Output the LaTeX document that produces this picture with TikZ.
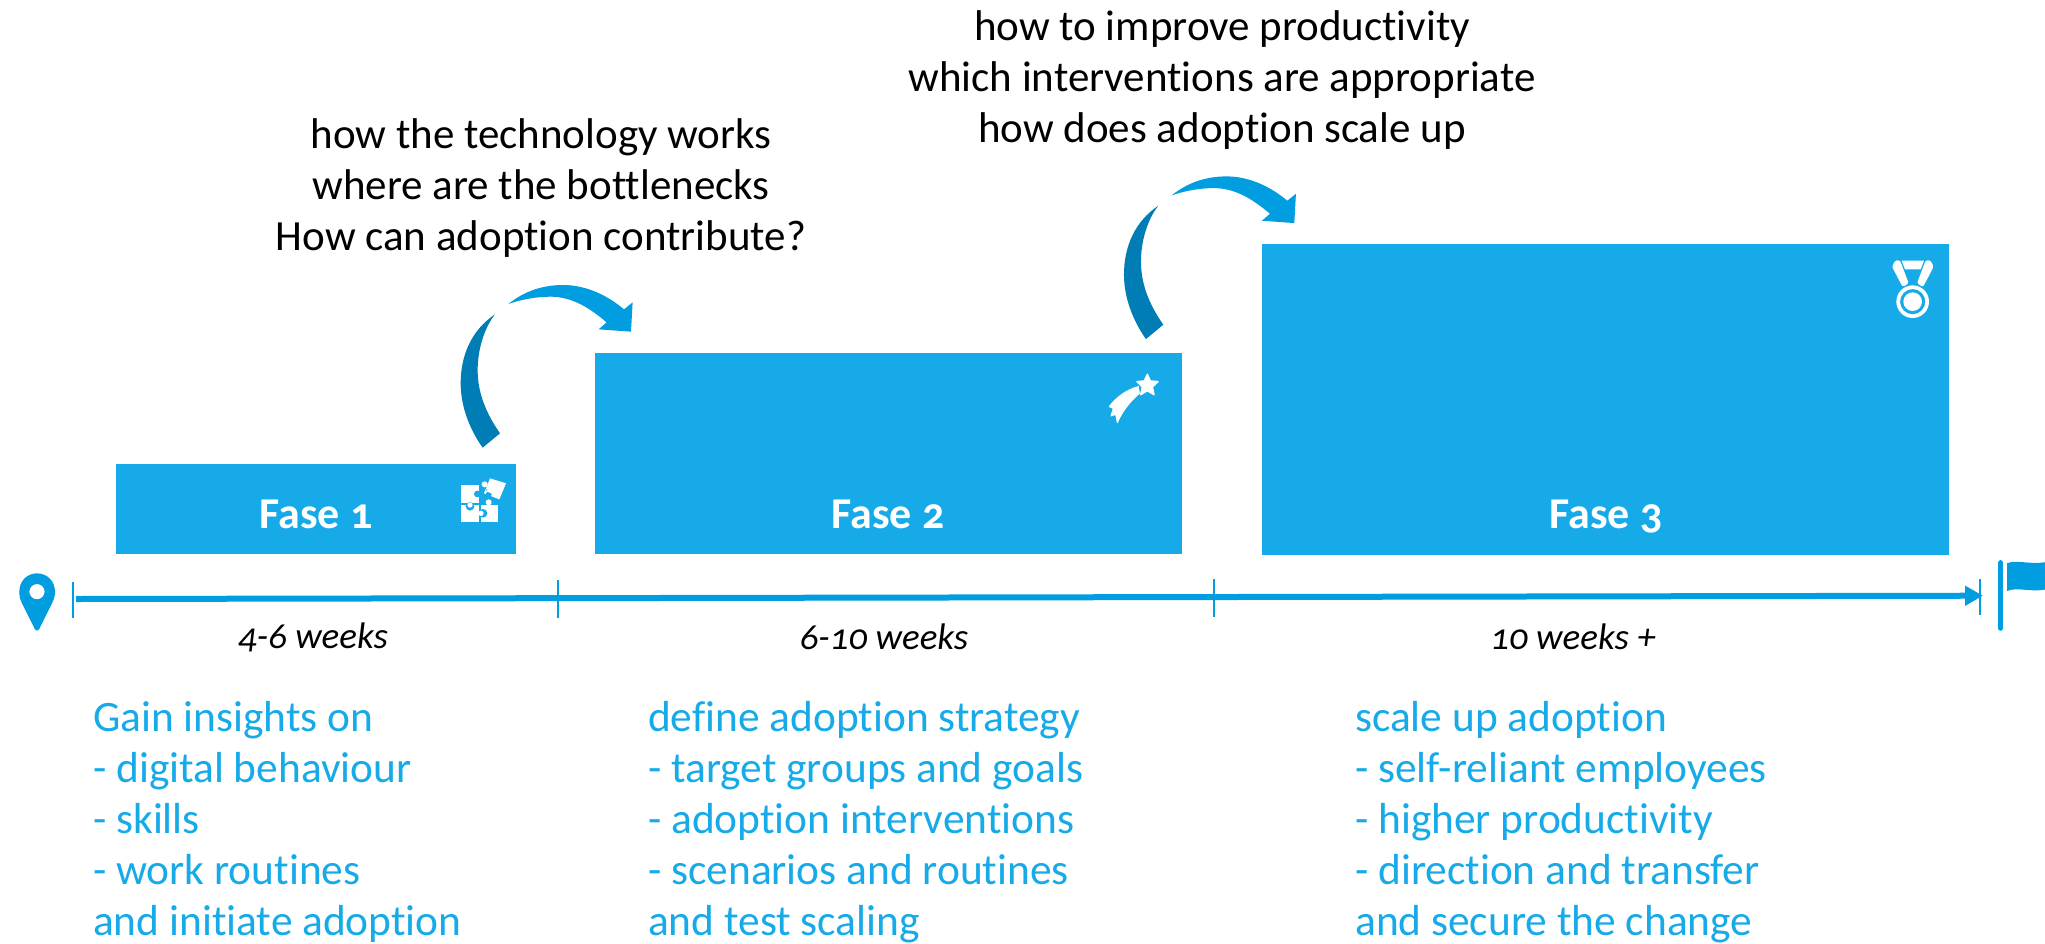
\documentclass[tikz,border=0pt]{standalone}
\usepackage{fontspec}
\setmainfont[Numbers=OldStyle,Ligatures=NoCommon]{Carlito}
\usetikzlibrary{arrows.meta}
\definecolor{boxblue}{RGB}{23,170,233}
\definecolor{linkblue}{RGB}{0,158,224}
\definecolor{darkblue}{RGB}{0,125,181}
\tikzset{
  phasebox/.style={fill=boxblue,draw=none},
  phaselabel/.style={text=white,font=\fontsize{44}{50}\selectfont\bfseries,anchor=center,inner sep=0pt},
  weeklabel/.style={text=black,font=\fontsize{37}{44}\selectfont\itshape,anchor=center,inner sep=0pt},
  bodytext/.style={text=boxblue,font=\fontsize{43.4}{51}\selectfont,align=left,anchor=base west,inner sep=0pt},
  questiontext/.style={text=black,font=\fontsize{43}{51}\selectfont,align=center,anchor=center,inner sep=0pt},
  tick/.style={draw=linkblue,line width=2.5pt},
  zoomone/.style={shift={(400,260)},x=0.3333pt,y=-0.3333pt},
  zoomtwo/.style={shift={(1050,160)},x=0.3333pt,y=-0.3333pt},
  zoomthree/.style={shift={(1850,240)},x=0.3333pt,y=-0.3333pt},
}
\newcommand{\jumparrow}{%
  \fill[darkblue] (285,163) .. controls (215,210) and (182,285) .. (182,370)
     .. controls (182,440) and (210,510) .. (248,563) -- (300,520)
     .. controls (255,455) and (233,395) .. (233,330)
     .. controls (233,270) and (252,205) .. (285,163) -- cycle;
  \fill[linkblue] (325,132) .. controls (375,92) and (430,75) .. (490,75)
     .. controls (560,75) and (625,108) .. (672,148) -- (698,127) -- (693,215)
     -- (596,208) -- (620,187)
     .. controls (570,145) and (520,112) .. (455,110)
     .. controls (410,110) and (365,118) .. (325,132) -- cycle;
}
\begin{document}
\begin{tikzpicture}[x=1pt,y=-1pt]
\useasboundingbox (0,0) rectangle (2045,943);
\fill[white] (0,0) rectangle (2045,943);

% phase boxes
\node[phasebox,minimum width=400pt,minimum height=90pt,inner sep=0pt] (f1) at (316,509) {};
\node[phasebox,minimum width=587pt,minimum height=201pt,inner sep=0pt] (f2) at (888.5,453.5) {};
\node[phasebox,minimum width=687pt,minimum height=311pt,inner sep=0pt] (f3) at (1605.5,399.5) {};
\node[phaselabel] (l1) at (316,514) {Fase 1};
\node[phaselabel] (l2) at (888,514) {Fase 2};
\node[phaselabel] (l3) at (1606,517) {Fase 3};

% jump arrows
\begin{scope}[zoomone] \jumparrow \end{scope}
\begin{scope}[shift={(663.3,-108.6)}]\begin{scope}[zoomone] \jumparrow \end{scope}\end{scope}

% timeline
\coordinate (tstart) at (76,599);
\coordinate (tend) at (1983,595.7);
\draw[draw=linkblue,line width=6pt,-{Triangle[length=18pt,width=19pt]}] (tstart) -- (tend);
\coordinate (t0a) at (73,582); \coordinate (t0b) at (73,618);
\coordinate (t1a) at (558,580); \coordinate (t1b) at (558,618);
\coordinate (t2a) at (1214,579); \coordinate (t2b) at (1214,617);
\coordinate (t3a) at (1980,579); \coordinate (t3b) at (1980,615);
\draw[tick] (t0a)--(t0b);
\draw[tick] (t1a)--(t1b);
\draw[tick] (t2a)--(t2b);
\draw[tick] (t3a)--(t3b);

% pin
\begin{scope}[shift={(0,540)},x=0.3333pt,y=-0.3333pt]
\fill[linkblue,even odd rule] (111,272) .. controls (105,272) and (103,265) .. (100,258)
  -- (66,190) .. controls (60,178) and (58,168) .. (58,155)
  .. controls (58,122) and (82,100) .. (111,100)
  .. controls (140,100) and (165,122) .. (165,155)
  .. controls (165,168) and (162,178) .. (156,190)
  -- (122,258) .. controls (119,265) and (117,272) .. (111,272) -- cycle
  (111,155) circle[radius=23];
\end{scope}

% flag
\begin{scope}[zoomthree]
\draw[linkblue,line width=5pt,line cap=round] (452,968) -- (452,1165);
\fill[linkblue] (471,970) .. controls (500,958) and (540,975) .. (590,966) -- (590,1048)
  .. controls (540,1058) and (505,1040) .. (471,1053) -- cycle;
\end{scope}

% puzzle icon
\begin{scope}[zoomone]
\fill[white] (183,676) rectangle (238,730);
\fill[white] (183,736) rectangle (238,785);
\fill[white] (243,736) rectangle (293,785);
\fill[boxblue] (232,702) circle[radius=10];
\fill[boxblue] (210,739) circle[radius=13];
\fill[boxblue] (249,760) circle[radius=13];
\fill[white] (210,735) circle[radius=8];
\fill[white] (243,760) circle[radius=8];
\fill[white] (266,727) circle[radius=9];
\fill[white] (270,655) -- (318,670) -- (298,718) -- (252,700) -- (262,676) -- cycle;
\fill[white] (254,673) circle[radius=9];
\fill[boxblue] (266,704) circle[radius=9];
\fill[boxblue] (270,676) -- (258,690) -- (275,700) -- cycle;
\fill[white] (274,686) circle[radius=14];
\end{scope}

% shooting star icon
\begin{scope}[zoomtwo]
\fill[white,draw=white,line width=1.5pt,line join=round] (292,643) -- (301,663) -- (324,665) -- (307,681) -- (312,704) -- (292,692) -- (272,704) -- (277,681) -- (261,665) -- (283,663) -- cycle;
\fill[white,draw=white,line width=1pt,line join=round] (265,680) .. controls (232,688) and (198,712) .. (178,740) -- (190,745) -- (183,768) -- (197,763) -- (202,788)
  .. controls (218,750) and (243,722) .. (268,700) -- cycle;
\end{scope}

% medal icon
\begin{scope}[zoomthree]
\fill[white,rounded corners=1.5pt] (126,80) -- (136,61) -- (150,61) -- (176,130) -- (158,141) -- cycle;
\fill[white,rounded corners=1.5pt] (251,80) -- (241,61) -- (227,61) -- (201,130) -- (219,141) -- cycle;
\fill[white] (155,62) -- (222,62) -- (212,88) -- (165,88) -- cycle;
\fill[white,even odd rule] (188,185) circle[radius=49] (188,185) circle[radius=38];
\fill[white] (188,185) circle[radius=28];
\end{scope}

% week labels
\node[weeklabel] (w1) at (313,637) {4-6 weeks};
\node[weeklabel] (w2) at (884,637) {6-10 weeks};
\node[weeklabel] (w3) at (1573,637) {10 weeks +};

% question text
\node[questiontext] (q1) at (541,188.5) {how the technology works\\where are the bottlenecks\\How can adoption contribute?};
\node[questiontext] (q2) at (1222,80.5) {how to improve productivity\\which interventions are appropriate\\how does adoption scale up};

% body text
\node[bodytext] (b1) at (93,935) {Gain insights on\\- digital behaviour\\- skills\\- work routines\\and initiate adoption};
\node[bodytext] (b2) at (648,935) {define adoption strategy\\- target groups and goals\\- adoption interventions\\- scenarios and routines\\and test scaling};
\node[bodytext] (b3) at (1355,935) {scale up adoption\\- self-reliant employees\\- higher productivity\\- direction and transfer\\and secure the change};
\end{tikzpicture}
\end{document}
